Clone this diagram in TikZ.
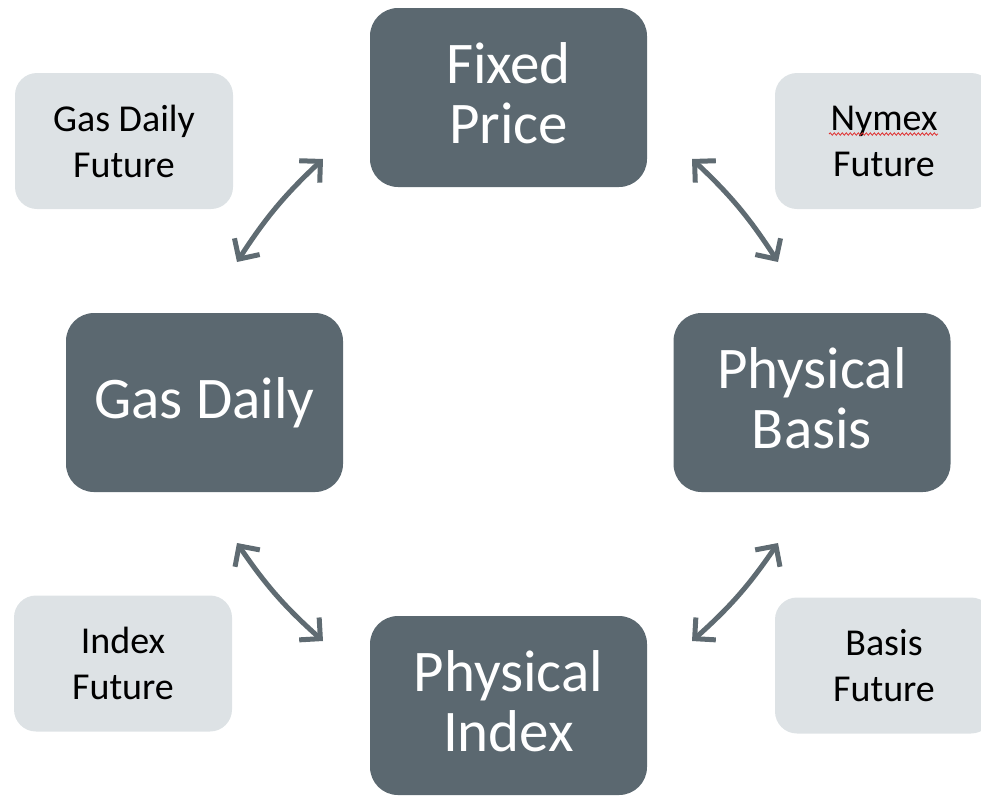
\documentclass[tikz,border=0pt]{standalone}
\usepackage{fontspec}
\setmainfont{Carlito}
\usetikzlibrary{arrows.meta,decorations.pathmorphing}
\definecolor{darkbox}{HTML}{5B6870}
\definecolor{lightbox}{HTML}{DDE2E5}
\definecolor{arrowgray}{HTML}{5F6B72}
\definecolor{spellred}{HTML}{E03030}
\tikzset{
  mainbox/.style={fill=darkbox, draw=none, rounded corners=28pt, minimum width=277pt, minimum height=179pt,
    text=white, align=center, font=\fontsize{59}{60}\selectfont, inner sep=0pt},
  twoline/.style={text depth=9pt},
  futbox/.style={fill=lightbox, draw=none, rounded corners=22pt, minimum width=218pt, minimum height=136pt,
    text=black, align=center, font=\fontsize{38}{46}\selectfont, inner sep=0pt},
  link/.style={draw=arrowgray, line width=5pt, line cap=round,
    {Straight Barb[length=15pt,width=30pt,line width=5pt]}-{Straight Barb[length=15pt,width=30pt,line width=5pt]}},
}
\begin{document}
\begin{tikzpicture}[x=1pt,y=-1pt]
\useasboundingbox (0,0) rectangle (981,796);
\clip (0,0) rectangle (981,796);

% main trading positions
\node[mainbox, twoline] (fixed) at (508.5,97.5) {Fixed\\Price};
\node[mainbox] (gasdaily) at (204.5,402.5) {Gas Daily};
\node[mainbox, twoline] (basis) at (812,402.5) {Physical\\Basis};
\node[mainbox, twoline] (index) at (508.5,705.5) {Physical\\Index};

% hedging futures
\node[futbox] (gdfut) at (124,141) {Gas Daily\\Future};
\node[futbox] (nymex) at (884,141) {Nymex\\Future};
\node[futbox] (idxfut) at (123,663.5) {Index\\Future};
\node[futbox] (basfut) at (884,665.5) {Basis\\Future};

% spelling underline beneath Nymex
\coordinate (sq1) at (829,134);
\coordinate (sq2) at (938,134);
\draw[spellred, line width=0.8pt, decorate, decoration={snake, amplitude=1.2pt, segment length=4pt}] (sq1) -- (sq2);

% arrow end points
\coordinate (a1s) at (237,262);
\coordinate (a1e) at (323,159);
\coordinate (a2s) at (692,159);
\coordinate (a2e) at (778,262);
\coordinate (a3s) at (237,543);
\coordinate (a3e) at (323,641);
\coordinate (a4s) at (778,543);
\coordinate (a4e) at (692,641);

\draw[link] (a1s) to[bend left=7] (a1e);
\draw[link] (a2s) to[bend left=7] (a2e);
\draw[link] (a3s) to[bend right=7] (a3e);
\draw[link] (a4s) to[bend left=7] (a4e);
\end{tikzpicture}
\end{document}
